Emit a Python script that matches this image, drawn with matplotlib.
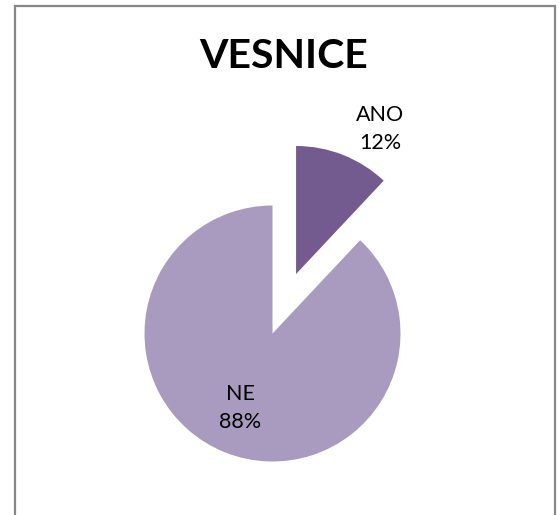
import matplotlib
matplotlib.use('Agg')
from matplotlib import pyplot as plt
from matplotlib.patches import Rectangle

categories = ['ANO', 'NE']
shares = [12, 88]
colors = ['#735A8F', '#A99BBF']
title = 'VESNICE'

W, H = 560, 515
R = 128
plt.rcParams['font.family'] = ['Lato', 'DejaVu Sans']

fig = plt.figure(figsize=(W / 100, H / 100), dpi=100)
ax = fig.add_axes([0, 0, 1, 1])
ax.set_xlim(0, W)
ax.set_ylim(0, H)
ax.set_aspect('equal')
ax.axis('off')

# chart border (bottom runs off the picture)
ax.add_patch(Rectangle((15, -10), 540, H - 6 + 10, fill=False,
                       edgecolor='#878787', linewidth=1.6))

# explode is in data units here, so half a radius
wedges, _ = ax.pie(shares, colors=colors, startangle=90, counterclock=False,
                   explode=[0.5 * R, 0], center=(272.5, H - 333.5), radius=R,
                   wedgeprops={'linewidth': 0})

# label centres in pixels (y up)
label_xy = [(380, H - 129), (240, H - 408)]
for cat, val, (x, y) in zip(categories, shares, label_xy):
    ax.text(x, y, f'{cat}\n{val}%', ha='center', va='center',
            fontsize=15.5, linespacing=1.45, color='black')

ax.text(284, H - 57, title, ha='center', va='center', fontsize=29.5,
        fontweight='bold')

ax.set_xlim(0, W)
ax.set_ylim(0, H)
fig.savefig('out.png', dpi=100, facecolor='white')
